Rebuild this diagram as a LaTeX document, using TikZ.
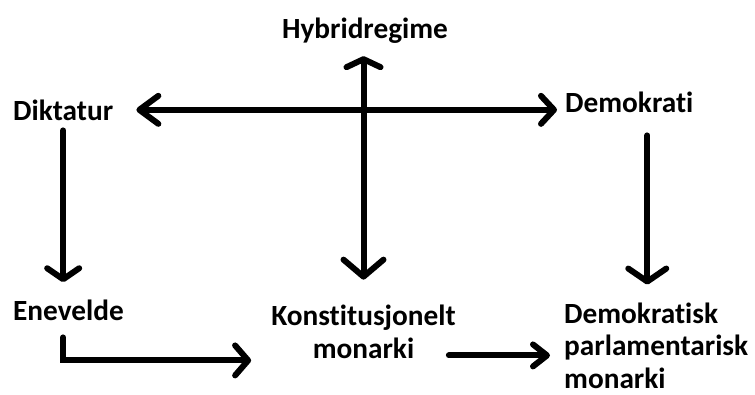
\documentclass[tikz,border=0pt]{standalone}
\usepackage{fontspec}
\setmainfont{Carlito}[Ligatures=NoCommon]
\usetikzlibrary{arrows.meta}
\tikzset{
  lbl/.style={inner sep=0pt, font=\fontsize{29.3}{32.6}\selectfont\bfseries, text=black},
  conn/.style={line width=6pt, line cap=round, line join=miter, draw=black},
}
\begin{document}
\begin{tikzpicture}[x=1pt,y=-1pt]
\useasboundingbox (0,0) rectangle (755,394);
\node[lbl, anchor=base west] (dik) at (13,120) {Diktatur};
\node[lbl, anchor=base] (hyb) at (365,38) {Hybridregime};
\node[lbl, anchor=base west] (dem) at (565,112) {Demokrati};
\node[lbl, anchor=base west] (ene) at (13,320) {Enevelde};
\node[lbl, anchor=base, align=center] (kon) at (363.5,358) {Konstitusjonelt\\monarki};
\node[lbl, anchor=base west, align=left] (dmk) at (564,388.5) {Demokratisk\\parlamentarisk\\monarki};
% Diktatur <-> Demokrati
\draw[conn, {Straight Barb[length=19pt,width=28pt,line cap=round,line join=round]}-{Straight Barb[length=13pt,width=28pt,line cap=round,line join=round]}, shorten <=23pt, shorten >=8pt]
  ([yshift=0pt]dik.east) -- ([yshift=0pt]dik.east -| dem.west);
% Hybridregime <-> Konstitusjonelt monarki
\draw[conn, {Straight Barb[length=8pt,width=34pt,line cap=round,line join=round]}-{Straight Barb[length=17pt,width=40pt,line cap=round,line join=round]}, shorten <=13pt, shorten >=25pt]
  (kon.north |- hyb.south) -- (kon.north);
% Diktatur -> Enevelde
\draw[conn, -{Straight Barb[length=11pt,width=32pt,line cap=round,line join=round]}, shorten <=10pt, shorten >=17pt]
  (dik.south) -- (dik.south |- ene.north);
% Demokrati -> Demokratisk parlamentarisk monarki
\draw[conn, -{Straight Barb[length=13pt,width=38pt,line cap=round,line join=round]}, shorten <=23pt, shorten >=18pt]
  ([xshift=18pt]dem.south) -- ([xshift=18pt]dem.south |- dmk.north);
% Enevelde -> Konstitusjonelt monarki
\draw[conn, -{Straight Barb[length=13pt,width=30pt,line cap=round,line join=round]}, shorten <=17pt, shorten >=20pt]
  ([xshift=-5.5pt]ene.south) |- ([yshift=-40pt]ene.south -| kon.west);
% Konstitusjonelt monarki -> Demokratisk parlamentarisk monarki
\draw[conn, -{Straight Barb[length=14pt,width=22pt,line cap=round,line join=round]}, shorten >=14pt]
  ([xshift=-7pt,yshift=3pt]kon.south east) -- ([yshift=3pt]kon.south east -| dmk.west);
\end{tikzpicture}
\end{document}
